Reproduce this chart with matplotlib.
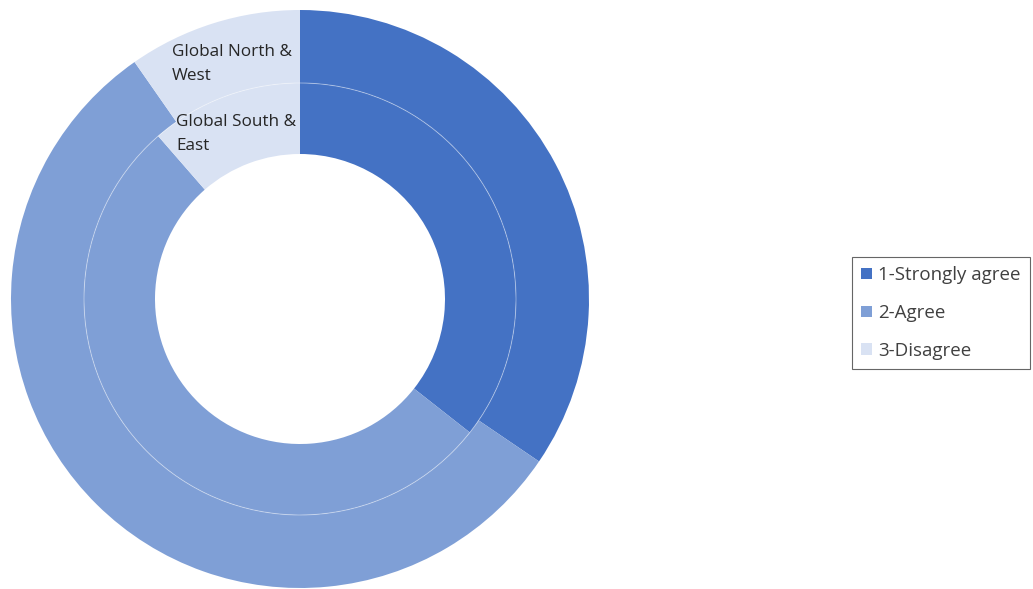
import matplotlib.pyplot as plt
from matplotlib.patches import Patch, Circle

# answer categories and shares (outer ring = North & West, inner = South & East)
categories = ["1-Strongly agree", "2-Agree", "3-Disagree"]
north_west = [34.5, 55.8, 9.7]
south_east = [35.6, 53.0, 11.4]
colors = ["#4472c4", "#7f9fd6", "#d9e2f3"]

plt.rcParams['font.family'] = ['Open Sans', 'DejaVu Sans']

fig = plt.figure(figsize=(10.33, 5.89), dpi=100)
R = 289
ax = fig.add_axes([(300 - R) / 1033, (589 - 299 - R) / 589, 2 * R / 1033, 2 * R / 589])

r_mid = 216 / R
r_hole = 145 / R

ax.pie(north_west, radius=1.0, colors=colors, startangle=90, counterclock=False,
       wedgeprops=dict(width=1.0 - r_mid, linewidth=0))
ax.pie(south_east, radius=r_mid, colors=colors, startangle=90, counterclock=False,
       wedgeprops=dict(width=r_mid - r_hole, linewidth=0))
ax.add_patch(Circle((0, 0), r_mid, fill=False, edgecolor='white', lw=0.7, alpha=0.4))
ax.set_xlim(-1, 1)
ax.set_ylim(-1, 1)
ax.set_aspect('equal')
ax.axis('off')

fig.text(172 / 1033, 1 - 44 / 589, "Global North &\nWest", fontsize=12.3, color='#262626',
         va='top', ha='left', linespacing=1.7)
fig.text(176 / 1033, 1 - 114 / 589, "Global South &\nEast", fontsize=12.3, color='#262626',
         va='top', ha='left', linespacing=1.7)

handles = [Patch(facecolor=c, edgecolor='none') for c in colors]
leg = fig.legend(handles, categories, loc='center left',
                 bbox_to_anchor=(852 / 1033, 1 - 313 / 589), frameon=True, fancybox=False,
                 edgecolor='#404040', fontsize=13.5, handlelength=0.55, handleheight=0.55,
                 handletextpad=0.35, labelspacing=1.05, borderpad=0.5, borderaxespad=0)
leg.get_frame().set_linewidth(0.8)
for t in leg.get_texts():
    t.set_color('#404040')

fig.savefig("out.png", dpi=100)
